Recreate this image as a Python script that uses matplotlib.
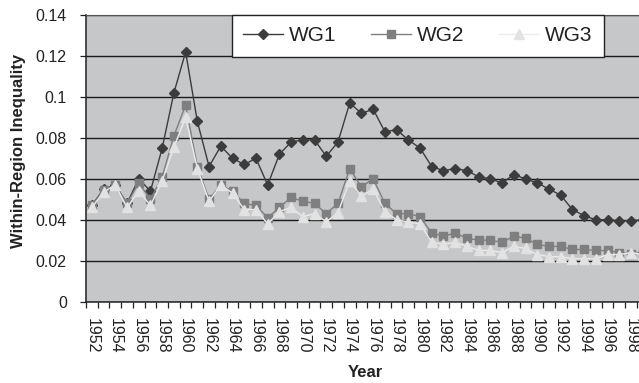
import numpy as np
import matplotlib
matplotlib.use("Agg")
import matplotlib.pyplot as plt

plt.rcParams['font.family'] = ['Liberation Sans', 'DejaVu Sans']

# Data
years = list(range(1952, 2000))
wg1 = [0.047, 0.055, 0.057, 0.048, 0.060, 0.054, 0.075, 0.102, 0.122, 0.088,
       0.066, 0.076, 0.070, 0.067, 0.070, 0.057, 0.072, 0.078, 0.079, 0.079,
       0.071, 0.078, 0.097, 0.092, 0.094, 0.083, 0.084, 0.079, 0.075, 0.066,
       0.064, 0.065, 0.064, 0.061, 0.060, 0.058, 0.062, 0.060, 0.058, 0.055,
       0.052, 0.045, 0.042, 0.040, 0.040, 0.0395, 0.0395, 0.040]
wg2 = [0.047, 0.0545, 0.057, 0.048, 0.058, 0.050, 0.061, 0.081, 0.096, 0.066,
       0.050, 0.057, 0.054, 0.048, 0.047, 0.041, 0.046, 0.051, 0.049, 0.048,
       0.043, 0.048, 0.065, 0.056, 0.060, 0.048, 0.043, 0.043, 0.0415, 0.0335,
       0.032, 0.0335, 0.031, 0.030, 0.030, 0.029, 0.032, 0.031, 0.028, 0.027,
       0.027, 0.0255, 0.0255, 0.025, 0.025, 0.024, 0.0235, 0.024]
wg3 = [0.046, 0.0535, 0.057, 0.046, 0.054, 0.047, 0.059, 0.0755, 0.090, 0.065,
       0.049, 0.057, 0.053, 0.045, 0.045, 0.038, 0.044, 0.046, 0.0415, 0.043,
       0.039, 0.0435, 0.059, 0.0515, 0.055, 0.044, 0.040, 0.039, 0.038, 0.029,
       0.028, 0.029, 0.027, 0.025, 0.025, 0.024, 0.027, 0.026, 0.023, 0.022,
       0.022, 0.021, 0.021, 0.021, 0.023, 0.023, 0.024, 0.023]
yticks = [0, 0.02, 0.04, 0.06, 0.08, 0.1, 0.12, 0.14]
ytick_labels = ['0', '0.02', '0.04', '0.06', '0.08', '0.1', '0.12', '0.14']

fig = plt.figure(figsize=(6.39, 3.83), dpi=100)
# plot area runs past the right edge of the picture, as in the original
ax = fig.add_axes([0.1346, 0.2123, 0.8804, 0.7485])
ax.set_facecolor('#c6c7c9')

x = np.arange(len(years))
ax.plot(x, wg1, color='#3c3c3c', lw=1.0, marker='D', ms=4.8,
        markerfacecolor='#3c3c3c', markeredgecolor='#3c3c3c', label='WG1', zorder=3)
ax.plot(x, wg2, color='#7f7f7f', lw=1.0, marker='s', ms=5.8,
        markerfacecolor='#7f7f7f', markeredgecolor='#7f7f7f', label='WG2', zorder=4)
ax.plot(x, wg3, color='#ebebeb', lw=1.0, marker='^', ms=6.5,
        markerfacecolor='#e2e2e2', markeredgecolor='#e2e2e2', label='WG3', zorder=5)

ax.set_xlim(-0.5, len(years) - 0.5)
ax.set_ylim(0, 0.14)

# gridlines
ax.set_yticks(yticks)
ax.set_yticklabels(ytick_labels)
ax.yaxis.grid(True, color='#1a1a1a', lw=1.0)
ax.set_axisbelow(True)

# category axis: tick marks between years, labels on every other year
ax.set_xticks(np.arange(len(years) + 1) - 0.5)
ax.set_xticklabels([])
ax.set_xticks(x[::2], minor=True)
ax.set_xticklabels([str(y) for y in years[::2]], minor=True, rotation=270)
ax.tick_params(axis='x', which='major', direction='out', length=4.5, width=0.9, color='#222222')
ax.tick_params(axis='x', which='minor', length=0, pad=11.5, labelsize=11.5, labelcolor='#222222')
ax.tick_params(axis='y', direction='out', length=4.3, width=0.9, color='#222222',
               pad=9.5, labelsize=11.5, labelcolor='#222222')

for side in ['left', 'bottom']:
    ax.spines[side].set_color('#222222')
    ax.spines[side].set_linewidth(1.1)
ax.spines['top'].set_color('#555555')
ax.spines['right'].set_color('#555555')

ax.set_ylabel('Within-Region Inequality', fontsize=12, fontweight='bold', color='#222222')
ax.yaxis.set_label_coords(-0.107, 0.525)
ax.set_xlabel('Year', fontsize=12, fontweight='bold', color='#222222')
ax.xaxis.set_label_coords(0.496, -0.22)

leg = ax.legend(loc='upper left', bbox_to_anchor=(232 / 639, 1 - 15 / 383),
                bbox_transform=fig.transFigure, ncol=3, fontsize=15,
                handlelength=1.9, handletextpad=0.3, columnspacing=1.65,
                borderpad=0.55, borderaxespad=0, frameon=True, fancybox=False)
leg.get_frame().set_edgecolor('#222222')
leg.get_frame().set_linewidth(1.0)
leg.get_frame().set_facecolor('white')
leg.get_frame().set_alpha(1)
for t in leg.get_texts():
    t.set_color('#222222')

fig.savefig('out.png', dpi=100)
